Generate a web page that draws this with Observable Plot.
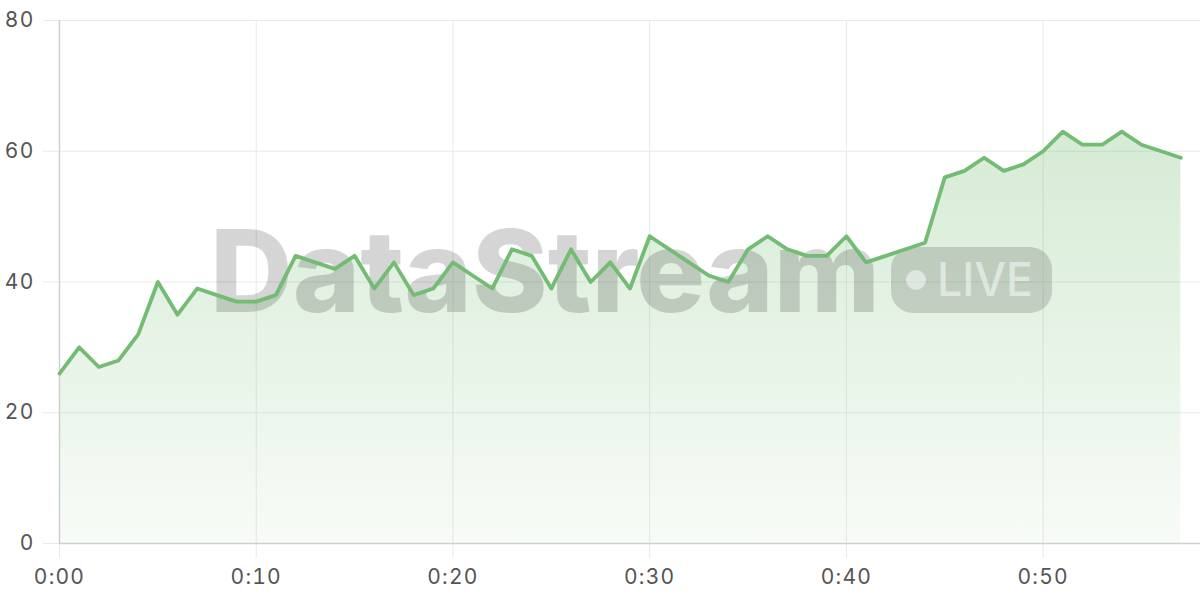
<!DOCTYPE html>
<html><head><meta charset="utf-8">
<script src="https://cdn.jsdelivr.net/npm/d3@7"></script>
<script src="https://cdn.jsdelivr.net/npm/@observablehq/plot@0.6"></script>
<style>
html,body{margin:0;padding:0;background:#fff;}
#chart svg{display:block;}
</style></head><body><div id="chart"></div>
<script>
const values = [26,30,27,28,32,40,35,39,38,37,37,38,44,43,42,44,39,43,38,39,43,41,39,45,44,39,45,40,43,39,47,45,43,41,40,45,47,45,44,44,47,43,44,45,46,56,57,59,57,58,60,63,61,61,63,61,60,59];
const xTicks = [0,10,20,30,40,50];
const yTicks = [0,20,40,60,80];
const watermarkText = "DataStream";
const badgeText = "LIVE";
const data = values.map((v,i)=>({minute:i, value:v}));
const fmt = d => `0:${String(d).padStart(2,"0")}`;

const chart = Plot.plot({
  width:1200, height:600,
  marginLeft:59, marginRight:0, marginTop:20, marginBottom:57,
  style:{fontFamily:"Inter, sans-serif", fontSize:"21px", color:"#555", background:"#fff", letterSpacing:"1.2px"},
  x:{domain:[0,58], type:"linear", label:null},
  y:{domain:[0,80], label:null},
  marks:[
    Plot.gridY(yTicks,{stroke:"#e9e9e9", strokeOpacity:1, insetLeft:-16}),
    Plot.gridX(xTicks,{stroke:"#e9e9e9", strokeOpacity:1, insetBottom:-15}),
    Plot.areaY(data,{x:"minute", y:"value", fill:"url(#areaGrad)"}),
    Plot.axisY(yTicks,{tickSize:0, tickPadding:25, fill:"#555", fontSize:21, label:null}),
    Plot.axisX(xTicks,{tickSize:0, tickPadding:26, tickFormat:fmt, fill:"#555", fontSize:21, label:null}),
    Plot.ruleX([0],{stroke:"#cfcfcf", strokeWidth:1.5}),
    Plot.ruleY([0],{stroke:"#cfcfcf", strokeWidth:1.5}),
    Plot.lineY(data,{x:"minute", y:"value", stroke:"#74bb74", strokeWidth:3.8})
  ]
});
document.getElementById("chart").appendChild(chart);

const svg = d3.select(chart);
const defs = svg.insert("defs", ":first-child");
const grad = defs.append("linearGradient").attr("id","areaGrad").attr("x1",0).attr("y1",0).attr("x2",0).attr("y2",1);
grad.append("stop").attr("offset","0%").attr("stop-color","#7cc07c").attr("stop-opacity",0.32);
grad.append("stop").attr("offset","100%").attr("stop-color","#7cc07c").attr("stop-opacity",0.06);

// watermark (decoration)
const wm = svg.append("g").attr("aria-label","watermark").attr("text-anchor","start").style("letter-spacing","0px");
wm.append("text").attr("x",210).attr("y",312).attr("text-anchor","start")
  .attr("font-family","Inter, sans-serif").attr("font-weight",800).attr("font-size",114)
  .attr("textLength",670).attr("lengthAdjust","spacingAndGlyphs")
  .attr("fill","#000").attr("fill-opacity",0.165).text(watermarkText);
wm.append("rect").attr("x",891).attr("y",247).attr("width",161).attr("height",66).attr("rx",22)
  .attr("fill","#000").attr("fill-opacity",0.15);
wm.append("circle").attr("cx",916).attr("cy",280).attr("r",10).attr("fill","#fff").attr("fill-opacity",0.5);
wm.append("text").attr("x",937).attr("y",296).attr("text-anchor","start")
  .attr("font-family","Inter, sans-serif").attr("font-weight",500).attr("font-size",46)
  .attr("textLength",96).attr("lengthAdjust","spacingAndGlyphs")
  .attr("fill","#fff").attr("fill-opacity",0.5).text(badgeText);

// keep the line above the watermark
const lineG = chart.querySelector('g[aria-label="line"]');
if (lineG) chart.appendChild(lineG);
</script></body></html>
